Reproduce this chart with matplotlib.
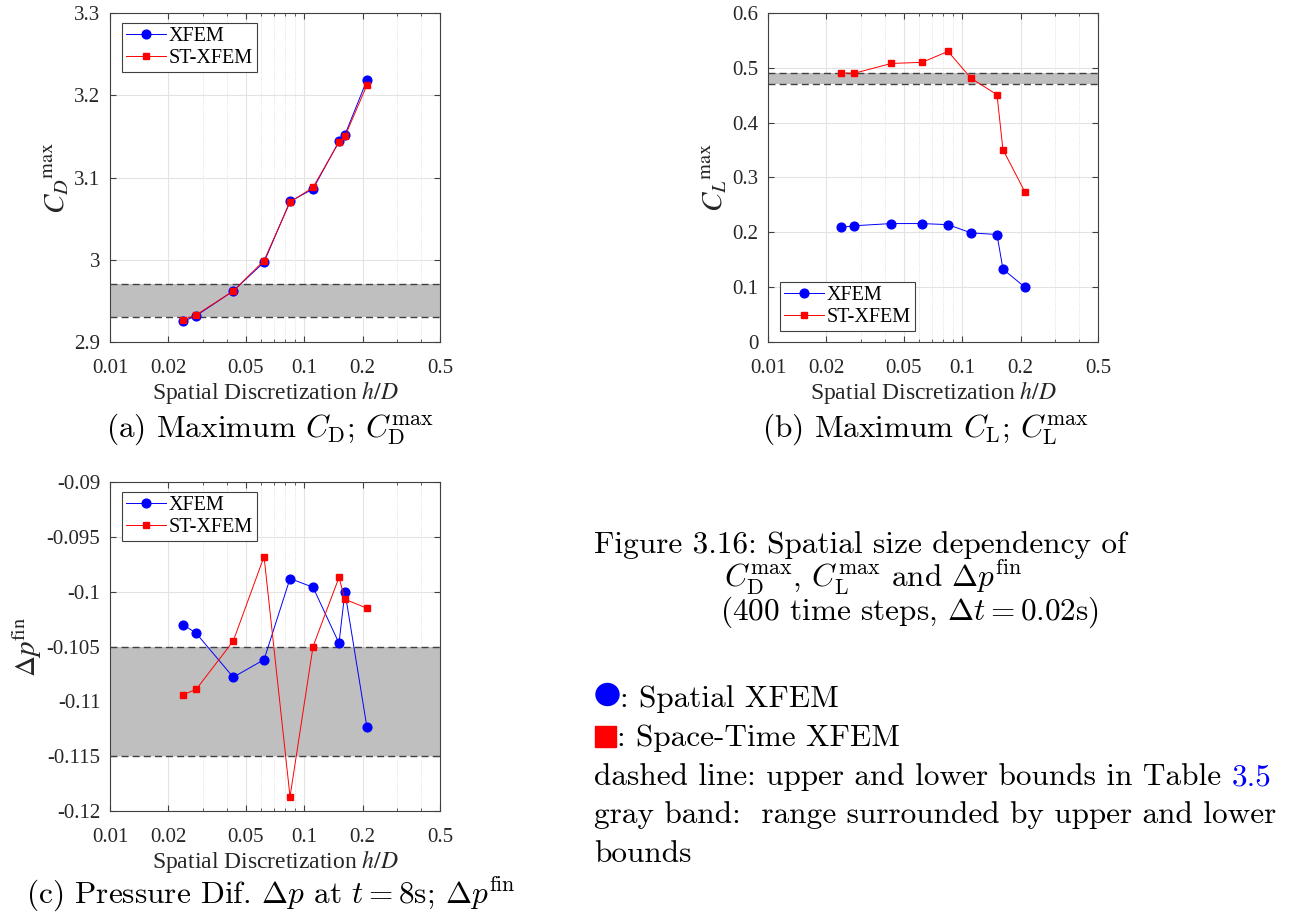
import numpy as np
import matplotlib
matplotlib.use("Agg")
import matplotlib.pyplot as plt
from matplotlib.patches import Ellipse, Rectangle
from matplotlib.ticker import FixedLocator, FixedFormatter, NullFormatter

# ── data ──────────────────────────────────────────────────────────────────────
h_over_D = [0.0238, 0.0278, 0.0431, 0.0621, 0.0845, 0.111, 0.151, 0.162, 0.21]

cd_xfem    = [2.925, 2.932, 2.962, 2.997, 3.071, 3.086, 3.144, 3.152, 3.218]
cd_stxfem  = [2.927, 2.933, 2.962, 2.999, 3.070, 3.088, 3.143, 3.150, 3.212]
cd_band    = [2.93, 2.97]

cl_xfem    = [0.209, 0.212, 0.216, 0.216, 0.214, 0.199, 0.196, 0.133, 0.100]
cl_stxfem  = [0.491, 0.490, 0.508, 0.510, 0.530, 0.481, 0.451, 0.351, 0.274]
cl_band    = [0.47, 0.49]

dp_xfem    = [-0.1030, -0.1038, -0.1078, -0.1062, -0.0988, -0.0996, -0.1047, -0.1000, -0.1123]
dp_stxfem  = [-0.1094, -0.1089, -0.1045, -0.0968, -0.1187, -0.1050, -0.0987, -0.1007, -0.1015]
dp_band    = [-0.115, -0.105]

x_ticks        = [0.01, 0.02, 0.05, 0.1, 0.2, 0.5]
x_tick_labels  = ["0.01", "0.02", "0.05", "0.1", "0.2", "0.5"]
cd_ticks       = [2.9, 3.0, 3.1, 3.2, 3.3]
cd_tick_labels = ["2.9", "3", "3.1", "3.2", "3.3"]
cl_ticks       = [0, 0.1, 0.2, 0.3, 0.4, 0.5, 0.6]
cl_tick_labels = ["0", "0.1", "0.2", "0.3", "0.4", "0.5", "0.6"]
dp_ticks       = [-0.12, -0.115, -0.11, -0.105, -0.1, -0.095, -0.09]
dp_tick_labels = ["-0.12", "-0.115", "-0.11", "-0.105", "-0.1", "-0.095", "-0.09"]

W, H = 1291, 921
fig = plt.figure(figsize=(W / 100, H / 100), dpi=100)

SERIF = "Liberation Serif"
CM = "cmr10"


def px_axes(left, top, right, bottom):
    return fig.add_axes([left / W, 1 - bottom / H, (right - left) / W, (bottom - top) / H])


def fx(x):
    return x / W


def fy(y):
    return 1 - y / H


def panel(ax, xfem, stxfem, band, yticks, ylabels, ylabel, legend_loc):
    ax.axhspan(band[0], band[1], color="#bfbfbf", lw=0, zorder=1)
    for yb in band:
        ax.axhline(yb, color="#404040", ls=(0, (5, 3)), lw=1.0, zorder=2)
    ax.plot(h_over_D, xfem, "-o", color="blue", lw=0.7, ms=6.3, mec="blue",
            label="XFEM", zorder=3)
    ax.plot(h_over_D, stxfem, "-s", color="red", lw=0.7, ms=5, mec="red",
            label="ST-XFEM", zorder=4)

    ax.set_xscale("log")
    ax.set_xlim(0.01, 0.5)
    ax.set_ylim(yticks[0], yticks[-1])
    ax.xaxis.set_major_locator(FixedLocator(x_ticks))
    ax.xaxis.set_major_formatter(FixedFormatter(x_tick_labels))
    ax.xaxis.set_minor_formatter(NullFormatter())
    ax.yaxis.set_major_locator(FixedLocator(yticks))
    ax.yaxis.set_major_formatter(FixedFormatter(ylabels))

    ax.grid(True, which="major", color="#e3e3e3", lw=0.8, zorder=0)
    ax.grid(True, which="minor", axis="x", color="#d8d8d8", lw=0.6, ls=":", zorder=0)
    ax.set_axisbelow(True)
    for s in ax.spines.values():
        s.set_color("#404040")
        s.set_linewidth(0.8)
    ax.tick_params(which="both", direction="in", top=True, right=True,
                   colors="#404040", labelcolor="#262626", labelsize=15)
    ax.tick_params(axis="x", pad=12)
    ax.tick_params(axis="y", pad=7)
    ax.tick_params(which="major", length=4)
    ax.tick_params(which="minor", length=2)
    for lab in ax.get_xticklabels() + ax.get_yticklabels():
        lab.set_fontfamily(SERIF)

    ax.set_xlabel("Spatial Discretization $h/D$", fontsize=17, family=SERIF,
                  math_fontfamily="stix", color="#262626", labelpad=1)
    ax.set_ylabel(ylabel, fontsize=21, family=SERIF, math_fontfamily="stix",
                  color="#262626", labelpad=2)

    anchor = (0.035, 0.97) if legend_loc == "upper left" else (0.035, 0.033)
    leg = ax.legend(loc=legend_loc, prop={"family": SERIF, "size": 14.5},
                    fancybox=False, framealpha=1, edgecolor="#404040",
                    borderpad=0.2, labelspacing=0.15, handlelength=2.0,
                    handletextpad=0.15, borderaxespad=0.0, bbox_to_anchor=anchor)
    leg.get_frame().set_linewidth(0.8)
    return ax


ax_a = px_axes(110, 13, 440, 342)
panel(ax_a, cd_xfem, cd_stxfem, cd_band, cd_ticks, cd_tick_labels,
      r"$C_D{}^{\rm max}$", "upper left")

ax_b = px_axes(768, 13, 1098, 342)
panel(ax_b, cl_xfem, cl_stxfem, cl_band, cl_ticks, cl_tick_labels,
      r"$C_L{}^{\rm max}$", "lower left")

ax_c = px_axes(110, 482, 440, 811)
panel(ax_c, dp_xfem, dp_stxfem, dp_band, dp_ticks, dp_tick_labels,
      r"$\Delta p{}^{\rm fin}$", "upper left")

# ── LaTeX-style captions ──────────────────────────────────────────────────────
cap = dict(family=CM, math_fontfamily="cm", fontsize=22.5, color="black", va="baseline")
fig.text(fx(270), fy(437), r"(a) Maximum $C_{\rm D}$; $C_{\rm D}^{\rm max}$", ha="center", **cap)
fig.text(fx(925), fy(437), r"(b) Maximum $C_{\rm L}$; $C_{\rm L}^{\rm max}$", ha="center", **cap)
fig.text(fx(26), fy(903), r"(c) Pressure Dif. $\Delta p$ at $t=8$s; $\Delta p^{\rm fin}$", ha="left", **cap)

fig.text(fx(594), fy(553), "Figure 3.16: Spatial size dependency of", ha="left", **cap)
fig.text(fx(724), fy(587), r"$C_{\rm D}^{\rm max}$, $C_{\rm L}^{\rm max}$ and $\Delta p^{\rm fin}$", ha="left", **cap)
fig.text(fx(720), fy(620), r"(400 time steps, $\Delta t=0.02$s)", ha="left", **cap)

fig.add_artist(Ellipse((fx(607.5), fy(694.5)), 23 / W, 22 / H, color="blue",
                       transform=fig.transFigure))
fig.text(fx(620), fy(707), ": Spatial XFEM", ha="left", **cap)
fig.add_artist(Rectangle((fx(595), fy(747)), 21 / W, 21 / H, color="red",
                         transform=fig.transFigure))
fig.text(fx(617), fy(746), ": Space-Time XFEM", ha="left", **cap)

# "3.5" is a blue cross-reference attached right after the sentence
t_dash = fig.text(fx(594), fy(785), "dashed line: upper and lower bounds in Table ", ha="left", **cap)
fig.add_artist(plt.Annotation("3.5", xy=(1, 0), xycoords=t_dash, va="bottom", ha="left",
                              color="blue", family=CM, fontsize=22.5))
fig.text(fx(594), fy(823), "gray band:  range surrounded by upper and lower", ha="left", **cap)
fig.text(fx(594), fy(862), "bounds", ha="left", **cap)

fig.savefig("out.png", dpi=100)
